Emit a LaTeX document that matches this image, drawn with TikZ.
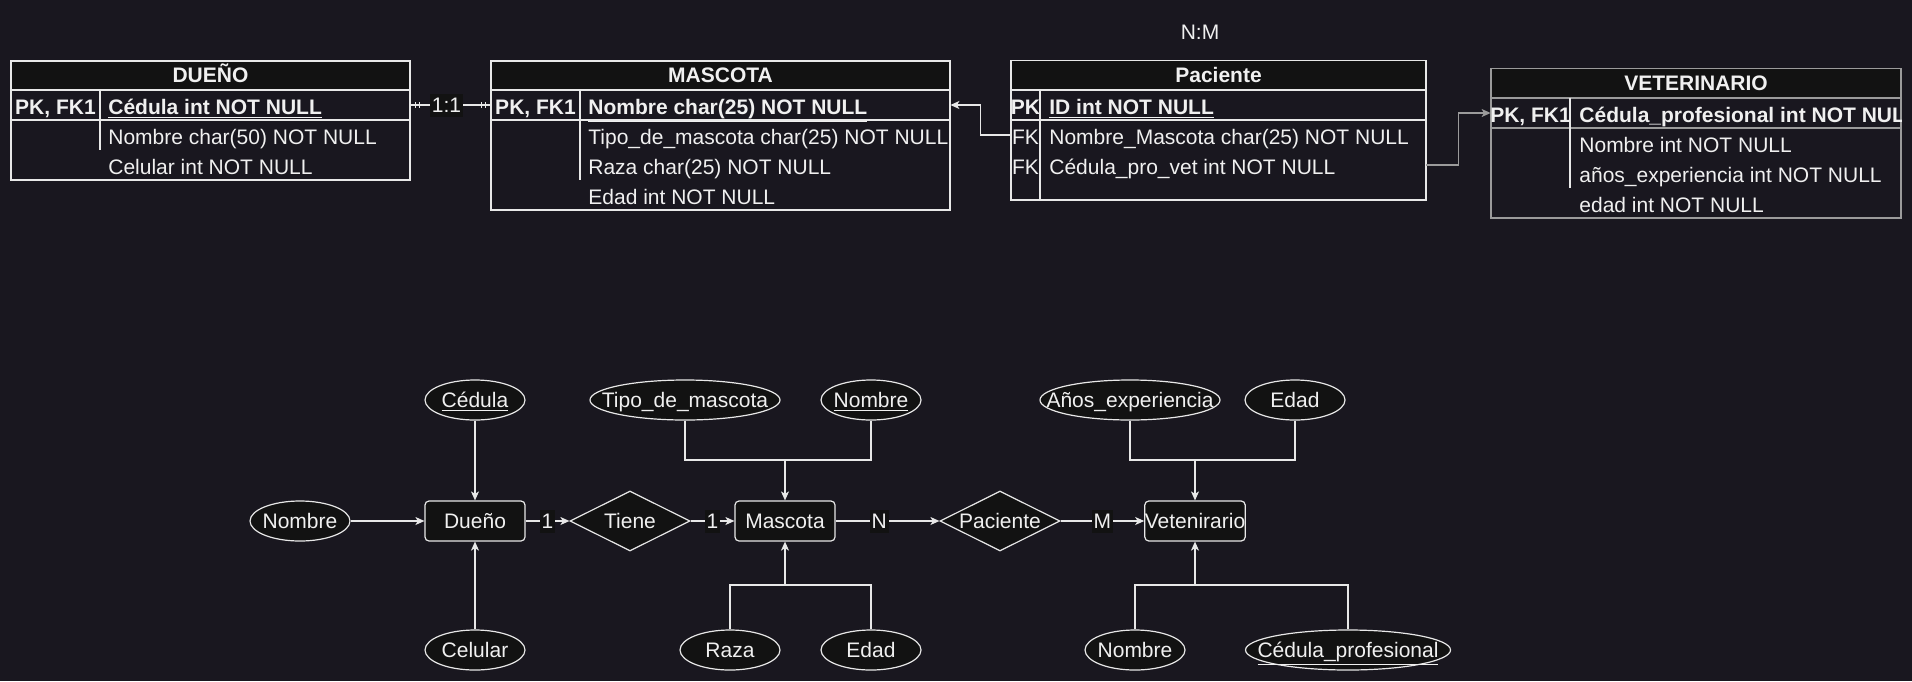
\documentclass[tikz,border=0pt]{standalone}
\usepackage{fontspec}
\setmainfont{Liberation Sans}
\usetikzlibrary{arrows.meta,shapes.geometric,decorations.markings}
\definecolor{fondo}{RGB}{25,23,31}
\definecolor{relleno}{RGB}{18,18,18}
\definecolor{linea}{RGB}{232,232,232}
\definecolor{texto}{RGB}{240,240,240}
\definecolor{gris}{RGB}{155,155,155}
\newcommand{\letra}{\fontsize{10.5}{12.5}\selectfont}
\tikzset{
  borde/.style={draw=linea, line width=0.6pt},
  cabecera/.style={draw=linea, line width=0.6pt, fill=relleno, minimum height=14.5pt, inner sep=0pt, text height=7.2pt, text depth=0pt, font=\letra\bfseries},
  fila/.style={minimum height=15pt, inner sep=0pt},
  clave/.style={anchor=base, inner sep=0pt, yshift=-4.8pt},
  campo/.style={anchor=base west, inner sep=0pt, yshift=-4.8pt},
  centrado/.style={text height=7.5pt, text depth=0pt},
  every label/.style={centrado, inner sep=0pt},
  entidad/.style={draw=linea, line width=0.6pt, fill=relleno, rounded corners=2pt, minimum width=50pt, minimum height=20pt, inner sep=0pt, centrado},
  atrib/.style={draw=linea, line width=0.6pt, fill=relleno, ellipse, minimum width=50pt, minimum height=20pt, inner sep=0pt},
  relacion/.style={draw=linea, line width=0.6pt, fill=relleno, diamond, aspect=2, minimum width=60pt, minimum height=30pt, inner sep=0pt, centrado},
  flecha/.style={draw=linea, line width=0.6pt, -{Stealth[length=4.5pt,width=4pt,inset=1.2pt]}},
  union/.style={draw=linea, line width=0.6pt},
  etiqueta/.style={fill=relleno, inner xsep=1pt, inner ysep=2pt, centrado},
  unouno/.style={draw=linea, line width=0.6pt, postaction={decorate}, decoration={markings,
    mark=at position 2.4pt with {\draw[linea, line width=0.6pt] (0,-1.3pt) -- (0,1.3pt);},
    mark=at position 4.4pt with {\draw[linea, line width=0.6pt] (0,-1.3pt) -- (0,1.3pt);},
    mark=at position -2.4pt with {\draw[linea, line width=0.6pt] (0,-1.3pt) -- (0,1.3pt);},
    mark=at position -4.4pt with {\draw[linea, line width=0.6pt] (0,-1.3pt) -- (0,1.3pt);}}}
}
\begin{document}
\begin{tikzpicture}[x=0.5pt, y=-0.5pt, every node/.style={font=\letra, text=texto}]
  \path[use as bounding box, fill=fondo] (0,0) rectangle (1912,681);

  % tabla DUEÑO
  \node[cabecera, minimum width=199.5pt] (due-h) at (210.5,75.5) {DUEÑO};
  \draw[borde] (11,90) rectangle (410,180);
  \draw[borde] (11,120) -- (410,120);
  \draw[borde] (100,90) -- (100,150);
  \node[fila, minimum width=199.5pt] (due-pk) at (210.5,105) {};
  \node[clave, font=\letra\bfseries] at (55.5,105) {PK, FK1};
  \node[campo, font=\letra\bfseries] at (108,105) {\underline{Cédula int NOT NULL}};
  \node[campo] at (108,135) {Nombre char(50) NOT NULL};
  \node[campo] at (108,165) {Celular int NOT NULL};

  % tabla MASCOTA
  \node[cabecera, minimum width=229.5pt] (mas-h) at (720.5,75.5) {MASCOTA};
  \draw[borde] (491,90) rectangle (950,210);
  \draw[borde] (491,120) -- (950,120);
  \draw[borde] (580,90) -- (580,180);
  \node[fila, minimum width=229.5pt] (mas-pk) at (720.5,105) {};
  \node[clave, font=\letra\bfseries] at (535.5,105) {PK, FK1};
  \node[campo, font=\letra\bfseries] at (588,105) {\underline{Nombre char(25) NOT NULL}};
  \node[campo] at (588,135) {Tipo\_de\_mascota char(25) NOT NULL};
  \node[campo] at (588,165) {Raza char(25) NOT NULL};
  \node[campo] at (588,195) {Edad int NOT NULL};

  % tabla Paciente
  \node (nm) at (1200,32) {N:M};
  \node[cabecera, minimum width=207.5pt] (pac-h) at (1218.5,75) {Paciente};
  \draw[borde] (1011,90) rectangle (1426,200);
  \draw[borde] (1011,120) -- (1426,120);
  \draw[borde] (1040,90) -- (1040,200);
  \node[fila, minimum width=207.5pt] (pac-pk) at (1218.5,105) {};
  \node[fila, minimum width=207.5pt] (pac-fk1) at (1218.5,135) {};
  \node[fila, minimum width=207.5pt] (pac-fk2) at (1218.5,165) {};
  \node[clave, font=\letra\bfseries] at (1025.5,105) {PK};
  \node[clave] at (1025.5,135) {FK};
  \node[clave] at (1025.5,165) {FK};
  \node[campo, font=\letra\bfseries] at (1049,105) {\underline{ID int NOT NULL}};
  \node[campo] at (1049,135) {Nombre\_Mascota char(25) NOT NULL};
  \node[campo] at (1049,165) {Cédula\_pro\_vet int NOT NULL};

  % tabla VETERINARIO
  \node[cabecera, draw=gris, minimum width=205pt] (vet-h) at (1696,83) {VETERINARIO};
  \draw[borde, draw=gris] (1491,98) rectangle (1901,218);
  \draw[borde, draw=gris] (1491,128) -- (1901,128);
  \draw[borde] (1570,98) -- (1570,188);
  \node[fila, minimum width=205pt] (vet-pk) at (1696,113) {};
  \node[clave, font=\letra\bfseries] at (1530.5,113) {PK, FK1};
  \begin{scope}
    \clip (1491,98) rectangle (1901,128);
    \node[campo, font=\letra\bfseries] at (1579,113) {\underline{Cédula\_profesional int NOT NULL}};
  \end{scope}
  \node[campo] at (1579,143) {Nombre int NOT NULL};
  \node[campo] at (1579,173) {años\_experiencia int NOT NULL};
  \node[campo] at (1579,203) {edad int NOT NULL};

  % relaciones entre tablas
  \draw[unouno] (due-pk.east) -- node[etiqueta, pos=0.45] {1:1} (mas-pk.west);
  \draw[flecha] (pac-fk1.west) -- ++(-30,0) |- (mas-pk.east);
  \draw[flecha, draw=gris] (pac-fk2.east) -- ++(32,0) |- (vet-pk.west);

  % diagrama entidad-relacion
  \node[entidad] (due) at (475,521) {Dueño};
  \node[atrib, label=center:{\underline{Cédula}}] (ced) at (475,400) {};
  \node[atrib, label=center:{Nombre}] (nom1) at (300,521) {};
  \node[atrib, label=center:{Celular}] (cel) at (475,650) {};
  \node[relacion] (tiene) at (630,521) {Tiene};
  \node[entidad] (mas) at (785,521) {Mascota};
  \node[atrib, minimum width=95pt, label=center:{Tipo\_de\_mascota}] (tipo) at (685,400) {};
  \node[atrib, label=center:{\underline{Nombre}}] (nom2) at (871,400) {};
  \node[atrib, label=center:{Raza}] (raza) at (730,650) {};
  \node[atrib, label=center:{Edad}] (eda1) at (871,650) {};
  \node[relacion] (paci) at (1000,521) {Paciente};
  \node[entidad] (vete) at (1195,521) {Vetenirario};
  \node[atrib, minimum width=90pt, label=center:{Años\_experiencia}] (anos) at (1130,400) {};
  \node[atrib, label=center:{Edad}] (eda2) at (1295,400) {};
  \node[atrib, label=center:{Nombre}] (nom3) at (1135,650) {};
  \node[atrib, minimum width=102.5pt, label=center:{\underline{Cédula\_profesional}}] (cedp) at (1348,650) {};

  \coordinate (jm1) at (785,460);
  \coordinate (jm2) at (785,585);
  \coordinate (jv1) at (1195,460);
  \coordinate (jv2) at (1195,585);

  \draw[flecha] (ced) -- (due);
  \draw[flecha] (nom1) -- (due);
  \draw[flecha] (cel) -- (due);
  \draw[flecha] (due) -- node[etiqueta] {1} (tiene);
  \draw[flecha] (tiene) -- node[etiqueta] {1} (mas);
  \draw[flecha] (mas) -- node[etiqueta, pos=0.42] {N} (paci);
  \draw[flecha] (paci) -- node[etiqueta] {M} (vete);

  \draw[flecha] (tipo) |- (jm1) -- (mas);
  \draw[union] (nom2) |- (jm1);
  \draw[flecha] (raza) |- (jm2) -- (mas);
  \draw[union] (eda1) |- (jm2);
  \draw[flecha] (anos) |- (jv1) -- (vete);
  \draw[union] (eda2) |- (jv1);
  \draw[flecha] (nom3) |- (jv2) -- (vete);
  \draw[union] (cedp) |- (jv2);
\end{tikzpicture}
\end{document}
